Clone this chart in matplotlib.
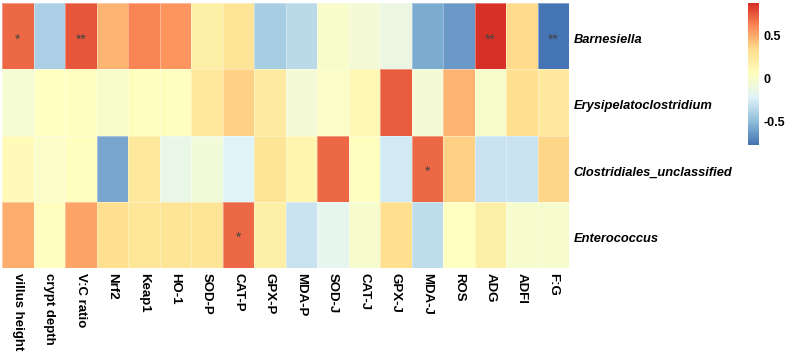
import numpy as np
import matplotlib
matplotlib.use("Agg")
import matplotlib.pyplot as plt
from matplotlib.colors import LinearSegmentedColormap, Normalize

# ---- data ----
genera = ["Barnesiella", "Erysipelatoclostridium",
          "Clostridiales_unclassified", "Enterococcus"]
traits = ["villus height", "crypt depth", "V:C ratio", "Nrf2", "Keap1", "HO-1",
          "SOD-P", "CAT-P", "GPX-P", "MDA-P", "SOD-J", "CAT-J", "GPX-J",
          "MDA-J", "ROS", "ADG", "ADFI", "F:G"]

barnesiella = [0.70, -0.40, 0.75, 0.48, 0.63, 0.58, 0.20, 0.30, -0.42, -0.35,
               0.00, -0.05, -0.12, -0.57, -0.63, 0.88, 0.34, -0.77]
erysipelato = [-0.03, 0.04, 0.06, 0.00, 0.06, 0.06, 0.26, 0.38, 0.22, -0.05,
               0.02, 0.12, 0.74, -0.05, 0.48, 0.00, 0.32, 0.24]
clostridiales = [0.10, 0.02, 0.06, -0.58, 0.26, -0.13, -0.07, -0.22, 0.30, 0.15,
                 0.70, 0.06, -0.26, 0.70, 0.38, -0.30, -0.30, 0.36]
enterococcus = [0.50, 0.06, 0.52, 0.33, 0.27, 0.30, 0.29, 0.70, 0.20, -0.30,
                -0.17, -0.02, 0.33, -0.33, 0.05, 0.20, -0.02, -0.02]

signif = [
    ["*", "", "**", "", "", "", "", "", "", "", "", "", "", "", "", "**", "", "**"],
    [""] * 18,
    ["", "", "", "", "", "", "", "", "", "", "", "", "", "*", "", "", "", ""],
    ["", "", "", "", "", "", "", "*", "", "", "", "", "", "", "", "", "", ""],
]

values = np.array([barnesiella, erysipelato, clostridiales, enterococcus])

# pheatmap default palette (reversed RdYlBu, 7 colours)
cmap = LinearSegmentedColormap.from_list(
    "rdylbu7", ["#4575B4", "#91BFDB", "#E0F3F8", "#FFFFBF",
                "#FEE090", "#FC8D59", "#D73027"], N=100)
norm = Normalize(vmin=values.min(), vmax=values.max())

plt.rcParams['font.family'] = ['Liberation Sans', 'DejaVu Sans']

W, H = 789, 353
fig = plt.figure(figsize=(W / 100, H / 100), dpi=100)

# heatmap area in pixels
x0, x1, y0, y1 = 2, 569, 3, 268
ax = fig.add_axes([x0 / W, 1 - y1 / H, (x1 - x0) / W, (y1 - y0) / H])
ax.pcolormesh(values, cmap=cmap, norm=norm, edgecolors=(1, 1, 1, 0.35),
              linewidth=0.4)
ax.set_xlim(0, len(traits))
ax.set_ylim(len(genera), 0)
for s in ax.spines.values():
    s.set_visible(False)
ax.set_xticks([])
ax.set_yticks([])

for i in range(len(genera)):
    for j in range(len(traits)):
        if signif[i][j]:
            ax.text(j + 0.5, i + 0.55, signif[i][j], ha='center', va='center',
                    fontsize=10, color='#444444')

# column labels, rotated
for j, t in enumerate(traits):
    ax.text(j + 0.5, len(genera) + 0.07, t, rotation=270, ha='left', va='center',
            fontsize=9.5, fontweight='bold', rotation_mode='anchor',
            clip_on=False)

# row labels
for i, g in enumerate(genera):
    ax.text(len(traits) + 0.15, i + 0.56, g, ha='left', va='center',
            fontsize=9.3, fontweight='bold', style='italic', clip_on=False)

# colour legend
cx0, cx1, cy0, cy1 = 748, 759, 3, 145
cax = fig.add_axes([cx0 / W, 1 - cy1 / H, (cx1 - cx0) / W, (cy1 - cy0) / H])
grad = np.linspace(values.min(), values.max(), 100).reshape(-1, 1)
cax.imshow(grad, aspect='auto', cmap=cmap, norm=norm, origin='lower',
           extent=[0, 1, values.min(), values.max()])
cax.set_xticks([])
cax.yaxis.tick_right()
cax.set_yticks([-0.5, 0, 0.5])
cax.set_yticklabels(["-0.5", "0", "0.5"], fontsize=9, fontweight='bold')
cax.tick_params(axis='y', length=0, pad=3)
for s in cax.spines.values():
    s.set_visible(False)

fig.savefig("out.png", dpi=100)
